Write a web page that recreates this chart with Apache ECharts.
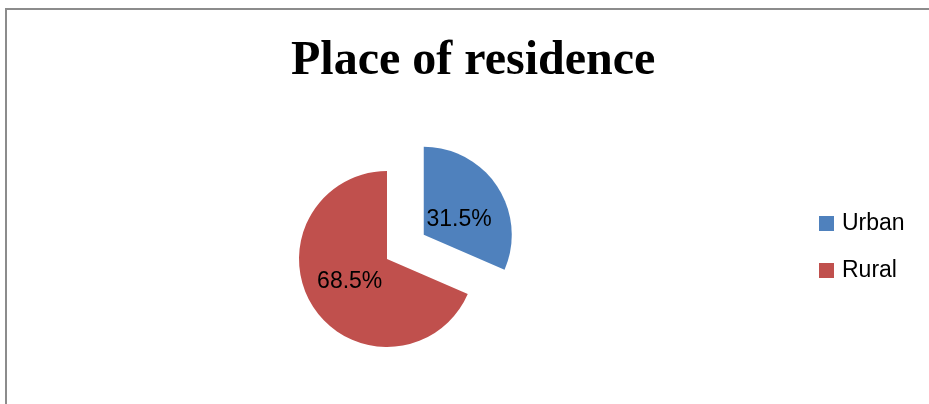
<!DOCTYPE html>
<html>
<head>
<meta charset="utf-8">
<script src="https://cdn.jsdelivr.net/npm/echarts@6/dist/echarts.min.js"></script>
<style>
  html, body { margin: 0; padding: 0; background: #fff; }
  #chart { width: 929px; height: 404px; }
</style>
</head>
<body>
<div id="chart"></div>
<script>
// Place of residence shares (percent)
const categories = ['Urban', 'Rural'];
const shares = [31.5, 68.5];
const sliceColors = ['#4F81BD', '#C0504D'];
const titleText = 'Place of residence';

const chart = echarts.init(document.getElementById('chart'), null, { renderer: 'canvas' });

// Label nudges so the percent text sits where it reads best in each slice
const labelOffsets = [[-4, 11], [2, -3]];

const pieData = categories.map((name, i) => ({
  name: name,
  value: shares[i],
  selected: i === 0,
  itemStyle: { color: sliceColors[i] },
  label: { offset: labelOffsets[i] },
  select: { label: { offset: labelOffsets[i] } }
}));

chart.setOption({
  backgroundColor: '#ffffff',
  animation: false,
  title: {
    text: titleText,
    left: 286,
    top: 33,
    textStyle: {
      fontFamily: '"Liberation Serif", "Times New Roman", serif',
      fontWeight: 'bold',
      fontSize: 48,
      color: '#000'
    }
  },
  legend: {
    orient: 'vertical',
    left: 814,
    top: 207,
    itemWidth: 15,
    itemHeight: 15,
    itemGap: 24,
    icon: 'rect',
    selectedMode: false,
    textStyle: {
      fontFamily: '"Liberation Sans", Arial, sans-serif',
      fontSize: 23,
      color: '#000',
      padding: [0, 0, 0, 3]
    },
    data: categories
  },
  graphic: [
    { type: 'line', shape: { x1: 6, y1: 9, x2: 929, y2: 9 }, style: { stroke: '#8c8c8c', lineWidth: 2 } },
    { type: 'line', shape: { x1: 6, y1: 8, x2: 6, y2: 404 }, style: { stroke: '#8c8c8c', lineWidth: 2 } }
  ],
  series: [{
    type: 'pie',
    center: [387, 259],
    radius: [0, 88],
    startAngle: 90,
    clockwise: true,
    selectedMode: 'single',
    selectedOffset: 44,
    avoidLabelOverlap: false,
    emphasis: { disabled: true },
    label: {
      show: true,
      position: 'inside',
      formatter: p => p.value.toFixed(1) + '%',
      fontFamily: '"Liberation Sans", Arial, sans-serif',
      fontSize: 23,
      color: '#000'
    },
    labelLine: { show: false },
    data: pieData
  }]
});
</script>
</body>
</html>
